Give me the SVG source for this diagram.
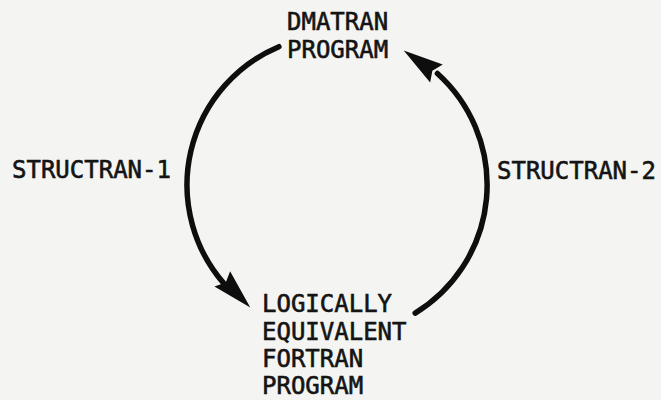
<svg xmlns="http://www.w3.org/2000/svg" width="661" height="400" viewBox="0 0 661 400">
  <style>
    .lbl { font-family: "DejaVu Sans Mono", "Liberation Mono", monospace; font-size: 24px; fill: #141414; stroke: #141414; stroke-width: 0.6px; }
    .arc { fill: none; stroke: #0e0e0e; stroke-width: 5.5; stroke-linecap: round; }
    .head { fill: #0e0e0e; }
  </style>
  <defs>
    <!-- arrowhead pointing along +x, tip at origin -->
    <path id="arrowhead" class="head" d="M0,0 L-40,-11 L-35,0 L-40,11 Z"/>
  </defs>
  <rect width="661" height="400" fill="#f4f4f2"/>

  <g id="dmatran">
    <text class="lbl" x="287" y="30">DMATRAN</text>
    <text class="lbl" x="287" y="58">PROGRAM</text>
  </g>

  <g id="fortran">
    <text class="lbl" x="262" y="312">LOGICALLY</text>
    <text class="lbl" x="262" y="340">EQUIVALENT</text>
    <text class="lbl" x="262" y="367">FORTRAN</text>
    <text class="lbl" x="262" y="394">PROGRAM</text>
  </g>

  <g id="connectors">
    <!-- STRUCTRAN-1: DMATRAN down to FORTRAN, left side of the cycle -->
    <path class="arc" d="M278.9,46.7 A150,150 0 0 0 223.8,283.4"/>
    <use href="#arrowhead" transform="translate(250.3,307.4) rotate(45.5)"/>
    <!-- STRUCTRAN-2: FORTRAN back up to DMATRAN, right side of the cycle -->
    <path class="arc" d="M415.2,313.1 A150,150 0 0 0 437.4,73.5"/>
    <use href="#arrowhead" transform="translate(403.7,50.6) rotate(215)"/>
  </g>

  <g id="edge-labels">
    <text class="lbl" x="12" y="178">STRUCTRAN-1</text>
    <text class="lbl" x="497" y="179">STRUCTRAN-2</text>
  </g>
</svg>
